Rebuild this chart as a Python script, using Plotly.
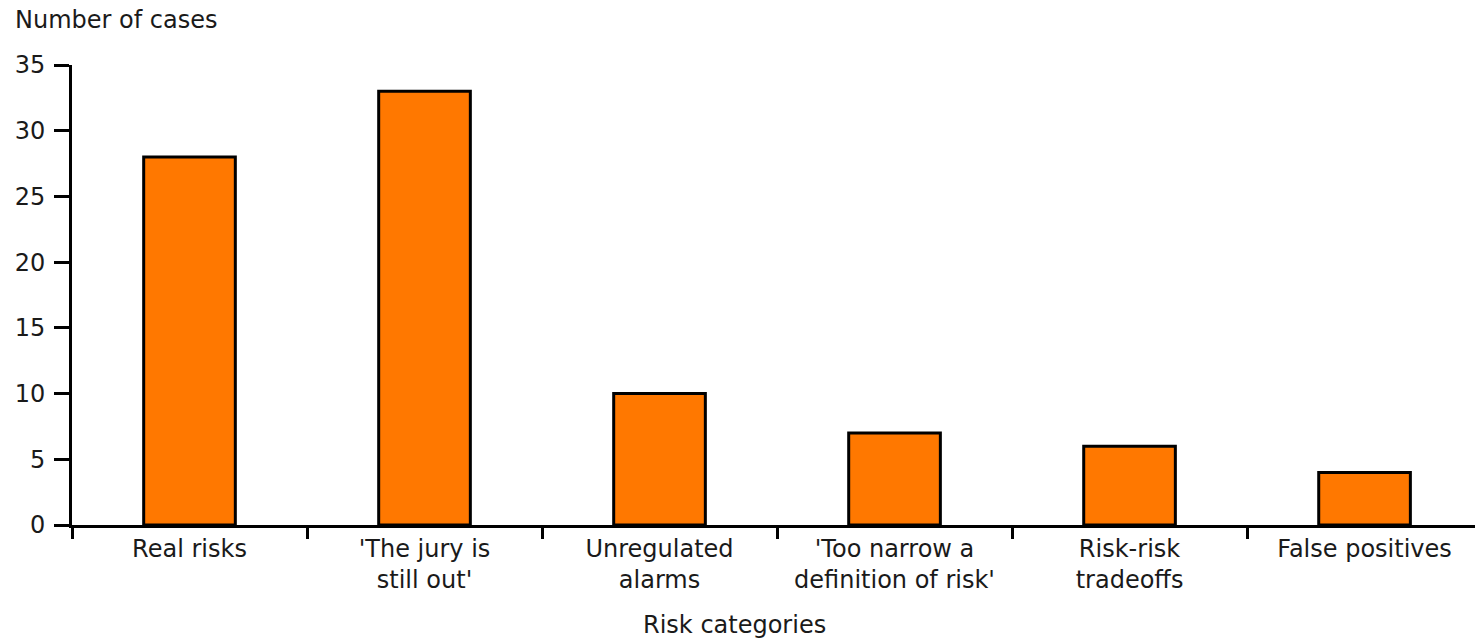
import plotly.graph_objects as go

# Risk categories and number of cases in each
categories = [
    "Real risks",
    "'The jury is<br>still out'",
    "Unregulated<br>alarms",
    "'Too narrow a<br>definition of risk'",
    "Risk-risk<br>tradeoffs",
    "False positives",
]
cases = [28, 33, 10, 7, 6, 4]
y_ticks = [0, 5, 10, 15, 20, 25, 30, 35]

FONT = "DejaVu Sans"
TEXT = "#1a1a1a"

fig = go.Figure(
    go.Bar(
        x=categories,
        y=cases,
        marker=dict(color="#ff7800", line=dict(color="black", width=3)),
        hoverinfo="x+y",
    )
)

fig.update_layout(
    width=1475,
    height=639,
    margin=dict(l=72, r=0, t=65, b=114),
    paper_bgcolor="white",
    plot_bgcolor="white",
    bargap=0.61,
    showlegend=False,
    font=dict(family=FONT, size=24, color=TEXT),
)

fig.update_xaxes(
    type="category",
    range=[-0.5, 5.47],
    showgrid=False,
    showline=True,
    linecolor="black",
    linewidth=3,
    ticks="outside",
    tickson="boundaries",
    ticklen=11,
    tickwidth=3,
    tickcolor="black",
    tickfont=dict(family=FONT, size=24, color=TEXT),
)

fig.update_yaxes(
    range=[0, 35],
    tickvals=y_ticks,
    showgrid=False,
    zeroline=False,
    showline=True,
    linecolor="black",
    linewidth=3,
    ticks="outside",
    ticklen=15,
    tickwidth=3,
    tickcolor="black",
    ticklabelstandoff=4,
    tickfont=dict(family=FONT, size=24, color=TEXT),
)

# Axis titles
fig.add_annotation(
    text="Number of cases", xref="paper", yref="paper",
    x=-72 / 1403 + 13 / 1403, y=1, yshift=45,
    xanchor="left", yanchor="middle", showarrow=False,
    font=dict(family=FONT, size=24, color=TEXT),
)
fig.add_annotation(
    text="Risk categories", xref="paper", yref="paper",
    x=(734 - 72) / 1403, y=0, yshift=-100,
    xanchor="center", yanchor="middle", showarrow=False,
    font=dict(family=FONT, size=24, color=TEXT),
)

fig.write_html("out.html")
